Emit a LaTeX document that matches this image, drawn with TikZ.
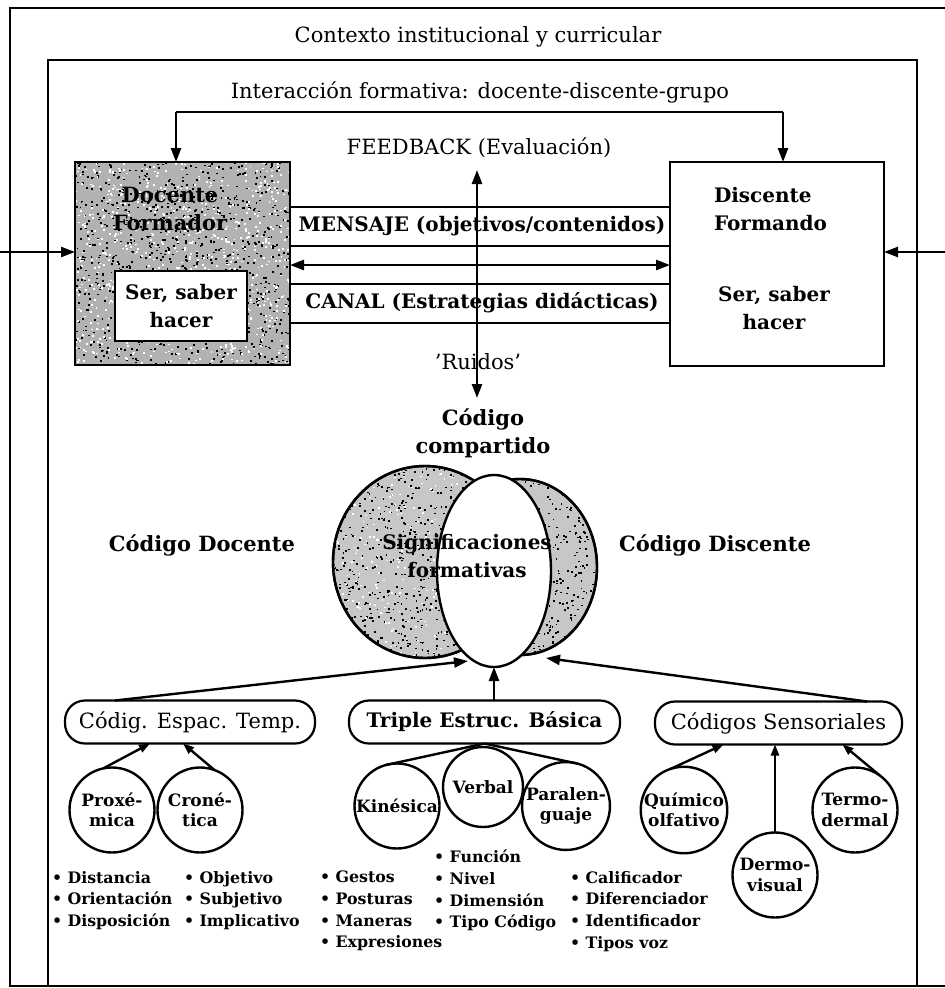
\documentclass[tikz,border=0pt]{standalone}
\usepackage{fontspec}
\setmainfont{DejaVu Serif}
\usetikzlibrary{arrows.meta,shapes.geometric}
\begin{document}
\begin{tikzpicture}[x=1pt,y=-1pt,
  every node/.style={inner sep=0pt, outer sep=0pt},
  ln/.style={line width=2.4pt},
  framestyle/.style={line width=2.2pt},
  arrA/.style={-{Triangle[length=14pt,width=10pt]}},
  arrD/.style={{Triangle[length=14pt,width=10pt]}-{Triangle[length=14pt,width=10pt]}},
  arrS/.style={-{Triangle[length=11pt,width=8pt]}},
  reg/.style={font=\fontsize{21}{26}\selectfont, align=center},
  bld/.style={font=\bfseries\fontsize{20}{28}\selectfont, align=center},
  bldL/.style={font=\bfseries\fontsize{21}{28}\selectfont, align=center},
  rbox/.style={draw, line width=2.2pt, rounded corners=20pt, minimum height=43pt},
  circ/.style={circle, draw, line width=2.4pt, minimum size=85pt, font=\bfseries\fontsize{17}{20.5}\selectfont, align=center},
  lst/.style={font=\bfseries\fontsize{15.8}{21.7}\selectfont, align=left, anchor=north west},
  shade1/.style={fill=black!30},
  shade2/.style={fill=black!22},
]
\useasboundingbox (0,0) rectangle (945,988);
\fill[white] (0,0) rectangle (945,988);

% frames
\draw[framestyle] (945,8) -- (10,8) -- (10,986) -- (945,986);
\draw[framestyle] (48,60) rectangle (917,986);

\node[reg] (ctx) at (478,37) {Contexto institucional y curricular};
\node[reg] (inter) at (480,92) {Interacción formativa: docente-discente-grupo};

% Docente box
\node[draw, ln, shade1, minimum width=215pt, minimum height=203pt] (doc) at (182.5,263.5) {};
\begin{scope}
  \clip (doc.south west) rectangle (doc.north east);
  \pgfmathsetseed{11}
  \foreach \i in {1,...,900}{
    \pgfmathsetmacro\xx{75+215*rnd}
    \pgfmathsetmacro\yy{162+203*rnd}
    \fill[black] (\xx,\yy) rectangle ++(1.9,1.7);
  }
  \foreach \i in {1,...,800}{
    \pgfmathsetmacro\xx{75+215*rnd}
    \pgfmathsetmacro\yy{162+203*rnd}
    \fill[white] (\xx,\yy) rectangle ++(1.9,1.7);
  }
\end{scope}
\draw[ln] (doc.south west) rectangle (doc.north east);
\node[bldL] (doct) at (170,209) {Docente\\Formador};
\node[draw, ln, fill=white, minimum width=132pt, minimum height=70pt, bld] (docsab) at (181,306) {Ser, saber\\hacer};

% Discente box
\node[draw, ln, fill=white, minimum width=214pt, minimum height=204pt] (dis) at (777,264) {};
\node[bld, align=left, anchor=west] (dist) at (714,209) {Discente\\Formando};
\node[bld] (dissab) at (774,308) {Ser, saber\\hacer};

% top interaction connector
\coordinate (tl) at (176,112);
\coordinate (tr) at (783,112);
\draw[ln] (tl) -- (tr);
\draw[ln, arrA] (tl) -- (tl |- doc.north);
\draw[ln, arrA] (tr) -- (tr |- dis.north);

% side arrows
\coordinate (la) at (0,252);
\coordinate (ra) at (945,252);
\draw[ln, arrA] (la) -- (doc.west |- la);
\draw[ln, arrA] (ra) -- (dis.east |- ra);

% channel
\draw[ln] (doc.east |- 0,207) -- (dis.west |- 0,207);
\draw[ln] (doc.east |- 0,246) -- (dis.west |- 0,246);
\draw[ln, arrD] (doc.east |- 0,265) -- (dis.west |- 0,265);
\draw[ln] (doc.east |- 0,284) -- (dis.west |- 0,284);
\draw[ln] (doc.east |- 0,323) -- (dis.west |- 0,323);
\node[bld] (msg) at (482,226) {MENSAJE (objetivos/contenidos)};
\node[bld] (can) at (482,303) {CANAL (Estrategias didácticas)};

% feedback
\node[reg] (fb) at (479,148) {FEEDBACK (Evaluación)};
\node[reg] (ru) at (478,362) {'Ruidos'};
\coordinate (fbt) at (477,170);
\coordinate (fbb) at (477,398);
\draw[ln, arrD] (fbt) -- (fbb);

% shared code
\node[bldL] (comp) at (483,433) {Código\\compartido};
\node[bldL] (cdoc) at (202,545) {Código Docente};
\node[bldL] (cdis) at (715,545) {Código Discente};

\node[ellipse, draw, ln, shade2, minimum width=184pt, minimum height=192pt] (ldisk) at (425,562) {};
\node[ellipse, draw, ln, shade2, minimum width=154pt, minimum height=176pt] (rdisk) at (520,567) {};
\begin{scope}
  \clip (425,562) ellipse [x radius=92, y radius=96];
  \pgfmathsetseed{5}
  \foreach \i in {1,...,800}{
    \pgfmathsetmacro\xx{333+184*rnd}
    \pgfmathsetmacro\yy{466+192*rnd}
    \fill[black] (\xx,\yy) rectangle ++(1.8,1.6);
  }
  \foreach \i in {1,...,300}{
    \pgfmathsetmacro\xx{333+184*rnd}
    \pgfmathsetmacro\yy{466+192*rnd}
    \fill[white] (\xx,\yy) rectangle ++(1.8,1.6);
  }
\end{scope}
\begin{scope}
  \clip (520,567) ellipse [x radius=77, y radius=88];
  \pgfmathsetseed{9}
  \foreach \i in {1,...,600}{
    \pgfmathsetmacro\xx{443+154*rnd}
    \pgfmathsetmacro\yy{479+176*rnd}
    \fill[black] (\xx,\yy) rectangle ++(1.8,1.6);
  }
\end{scope}
\draw[ln] (425,562) ellipse [x radius=92, y radius=96];
\draw[ln] (520,567) ellipse [x radius=77, y radius=88];
\node[ellipse, draw, ln, fill=white, minimum width=114pt, minimum height=192pt] (mid) at (494,571) {};
\node[bld] (sig) at (467,556) {Significaciones\\formativas};

% level boxes
\node[rbox, reg, minimum width=250pt, font=\fontsize{21}{24}\selectfont] (esp) at (190,722) {Códig. Espac. Temp.};
\node[rbox, bld, minimum width=271pt, font=\bfseries\fontsize{20}{24}\selectfont] (trip) at (484.5,722) {Triple Estruc. Básica};
\node[rbox, reg, minimum width=247pt, font=\fontsize{21}{24}\selectfont] (sens) at (778.5,723) {Códigos Sensoriales};

\draw[ln, arrA] ([xshift=50pt]esp.north west) -- ([xshift=-26pt,yshift=6pt]mid.south);
\draw[ln, arrA] (trip.north -| mid.south) -- (mid.south);
\draw[ln, arrA] ([xshift=-35pt]sens.north east) -- ([xshift=52pt,yshift=9pt]mid.south);

% circles
\node[circ] (prox) at (112,810) {Proxé-\\mica};
\node[circ] (cron) at (200,810) {Croné-\\tica};
\node[circ] (kin) at (397,806) {Kinésica};
\node[circ, minimum size=80pt] (verb) at (483,787) {Verbal};
\node[circ] (para) at (566,806) {Paralen-\\guaje};
\node[circ] (quim) at (684,810) {Químico\\olfativo};
\node[circ] (derm) at (775,875) {Dermo-\\visual};
\node[circ] (term) at (855,810) {Termo-\\dermal};

\draw[ln, arrS] (prox.102) -- ([xshift=-40pt]esp.south);
\draw[ln, arrS] (cron.70) -- ([xshift=-7pt]esp.south);
\draw[ln] (trip.south) -- (kin.106);
\draw[ln] (trip.south) -- (para.74);
\draw[ln, arrS] (quim.108) -- ([xshift=-55pt]sens.south);
\draw[ln, arrS] (derm.north) -- (derm.north |- sens.south);
\draw[ln, arrS] (term.54) -- ([xshift=64pt]sens.south);

% lists
\node[lst] (l1) at (52,871) {• Distancia\\• Orientación\\• Disposición};
\node[lst] (l2) at (184,871) {• Objetivo\\• Subjetivo\\• Implicativo};
\node[lst] (l3) at (320,871) {• Gestos\\• Posturas\\• Maneras\\• Expresiones};
\node[lst] (l4) at (434,850) {• Función\\• Nivel\\• Dimensión\\• Tipo Código};
\node[lst] (l5) at (570,871) {• Calificador\\• Diferenciador\\• Identificador\\• Tipos voz};
\end{tikzpicture}
\end{document}
